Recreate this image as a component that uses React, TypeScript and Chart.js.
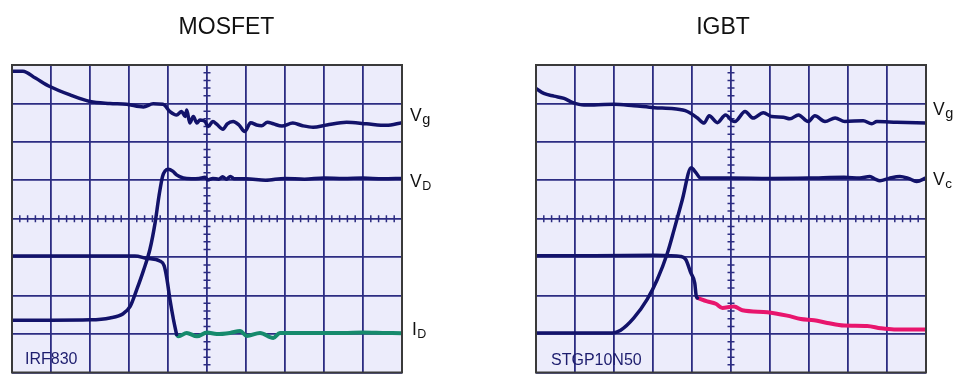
import React, { useEffect, useRef } from "react";
import { Chart, registerables } from "chart.js";

Chart.register(...registerables);

type Pt = [number, number];

// ---------- data (x in horizontal divisions 0..10, y in vertical divisions 0..8) ----------
const mosfetTitle = "MOSFET";
const igbtTitle = "IGBT";
const mosfetPart = "IRF830";
const igbtPart = "STGP10N50";

const mosfetVg: Pt[] = [
  [0, 7.84], [0.28, 7.84], [0.6, 7.66], [0.97, 7.44], [1.49, 7.22], [2.0, 7.05], [2.51, 7.0],
  [2.94, 6.98], [3.37, 6.91], [3.62, 6.99], [3.87, 6.98], [4.05, 6.79], [4.22, 6.7], [4.35, 6.79],
  [4.44, 6.66], [4.48, 6.83], [4.56, 6.49], [4.65, 6.66], [4.74, 6.49], [4.82, 6.57], [4.95, 6.53],
  [5.03, 6.4], [5.15, 6.53], [5.25, 6.46], [5.41, 6.33], [5.52, 6.47], [5.67, 6.53], [5.82, 6.44],
  [5.97, 6.27], [6.12, 6.5], [6.27, 6.44], [6.4, 6.42], [6.55, 6.51], [6.7, 6.47], [6.92, 6.41],
  [7.2, 6.49], [7.45, 6.42], [7.72, 6.38], [8.07, 6.44], [8.58, 6.51], [9.09, 6.47], [9.6, 6.43],
  [10, 6.5],
];
const mosfetVd: Pt[] = [
  [0, 1.36], [1.0, 1.36], [2.0, 1.37], [2.51, 1.42], [2.85, 1.53], [3.03, 1.72], [3.2, 2.16],
  [3.37, 2.65], [3.54, 3.22], [3.67, 3.9], [3.77, 4.6], [3.86, 5.1], [3.93, 5.25], [4.01, 5.29],
  [4.12, 5.24], [4.22, 5.14], [4.39, 5.06], [4.6, 5.04], [4.8, 5.05], [4.95, 5.08], [5.02, 5.01],
  [5.15, 5.05], [5.3, 5.03], [5.4, 5.09], [5.5, 5.03], [5.6, 5.1], [5.7, 5.04], [6.0, 5.04],
  [6.5, 5.0], [7.0, 5.05], [7.5, 5.03], [8.0, 5.06], [8.5, 5.05], [9.0, 5.06], [9.5, 5.04], [10, 5.05],
];
const mosfetIdOn: Pt[] = [
  [0, 3.03], [3.15, 3.03], [3.45, 2.97], [3.79, 2.9], [3.9, 2.78], [3.97, 2.45], [4.05, 1.9],
  [4.14, 1.38], [4.22, 0.99],
];
const mosfetIdOff: Pt[] = [
  [4.22, 0.99], [4.27, 0.94], [4.48, 1.03], [4.74, 0.94], [5.0, 1.04], [5.25, 1.0], [5.59, 1.03],
  [5.85, 1.08], [6.02, 0.95], [6.36, 1.03], [6.7, 0.9], [6.87, 1.03], [7.5, 1.03], [8.0, 1.03],
  [8.5, 1.03], [9.0, 1.04], [9.5, 1.03], [10, 1.02],
];

const igbtVg: Pt[] = [
  [0, 7.39], [0.2, 7.26], [0.46, 7.19], [0.72, 7.13], [0.93, 7.03], [1.23, 6.96], [1.49, 6.96],
  [2.0, 6.98], [2.51, 6.94], [3.03, 6.89], [3.54, 6.86], [3.88, 6.79], [4.14, 6.62], [4.31, 6.49],
  [4.44, 6.68], [4.65, 6.5], [4.86, 6.7], [5.03, 6.55], [5.1, 6.53], [5.36, 6.79], [5.57, 6.62],
  [5.83, 6.76], [6.04, 6.66], [6.34, 6.64], [6.51, 6.6], [6.73, 6.7], [6.98, 6.53], [7.15, 6.68],
  [7.41, 6.53], [7.67, 6.62], [7.92, 6.53], [8.39, 6.55], [8.61, 6.47], [8.74, 6.53], [9.25, 6.51],
  [10, 6.49],
];
const igbtVc: Pt[] = [
  [0, 1.03], [1.96, 1.03], [2.17, 1.1], [2.51, 1.42], [2.85, 1.9], [3.11, 2.42], [3.37, 3.11],
  [3.54, 3.71], [3.75, 4.49], [3.98, 5.33], [4.1, 5.2], [4.22, 5.06], [5.0, 5.06], [6.0, 5.05],
  [7.0, 5.06], [7.9, 5.08], [8.3, 5.06], [8.56, 5.1], [8.7, 5.03], [8.82, 4.99], [9.05, 5.05],
  [9.33, 5.1], [9.55, 5.05], [9.76, 4.97], [10, 5.06],
];
const igbtIcOn: Pt[] = [
  [0, 3.04], [1.5, 3.04], [3.03, 3.05], [3.4, 3.04], [3.71, 3.02], [3.84, 2.94], [3.97, 2.59],
  [4.07, 2.33], [4.11, 1.98], [4.14, 1.94],
];
const igbtIcTail: Pt[] = [
  [4.14, 1.94], [4.39, 1.85], [4.61, 1.79], [4.78, 1.68], [4.99, 1.71], [5.08, 1.72], [5.29, 1.62],
  [5.93, 1.57], [6.44, 1.48], [6.79, 1.39], [7.13, 1.36], [7.47, 1.29], [7.9, 1.22], [8.49, 1.21],
  [8.84, 1.15], [9.18, 1.12], [10, 1.12],
];

const xDivisions = 10;
const yDivisions = 8;

// ---------- styles ----------
const NAVY = "#12126a";
const GRID = "#2c2c82";
const BG = "#ececfb";
const FRAME = "#3a3a3a";
const GREEN = "#168a6c";
const PINK = "#e8156d";
const FONT = '"Liberation Sans", Arial, Helvetica, sans-serif';

if (typeof document !== "undefined") {
  document.body.style.margin = "0";
}

type Label = { main: string; sub: string; x: number; y: number; subDy: number; subSize: number };

type PanelSpec = {
  title: string;
  titleX: number;
  part: string;
  partX: number;
  partY: number;
  padding: { left: number; right: number; top: number; bottom: number };
  series: { pts: Pt[]; color: string; width: number }[];
  labels: Label[];
};

const toXY = (pts: Pt[]) => pts.map(([x, y]) => ({ x, y }));

function scopePlugin(spec: PanelSpec) {
  return {
    id: "scope",
    beforeDraw(chart: any) {
      const { ctx, chartArea: a } = chart;
      ctx.save();
      ctx.fillStyle = BG;
      ctx.fillRect(a.left, a.top, a.right - a.left, a.bottom - a.top);
      ctx.restore();
    },
    beforeDatasetsDraw(chart: any) {
      const { ctx } = chart;
      const xs = chart.scales.x;
      const ys = chart.scales.y;
      const cx = xs.getPixelForValue(xDivisions / 2);
      const cy = ys.getPixelForValue(yDivisions / 2);
      ctx.save();
      ctx.strokeStyle = GRID;
      ctx.lineWidth = 1.5;
      ctx.beginPath();
      for (let i = 1; i < xDivisions * 5; i++) {
        if (i % 5 === 0) continue;
        const px = xs.getPixelForValue(i / 5);
        ctx.moveTo(px, cy - 3.5);
        ctx.lineTo(px, cy + 3.5);
      }
      for (let i = 1; i < yDivisions * 5; i++) {
        if (i % 5 === 0) continue;
        const py = ys.getPixelForValue(i / 5);
        ctx.moveTo(cx - 3.5, py);
        ctx.lineTo(cx + 3.5, py);
      }
      ctx.stroke();
      ctx.restore();
    },
    afterDraw(chart: any) {
      const { ctx, chartArea: a } = chart;
      ctx.save();
      ctx.strokeStyle = FRAME;
      ctx.lineWidth = 2;
      ctx.strokeRect(a.left, a.top, a.right - a.left, a.bottom - a.top);

      ctx.fillStyle = "#111111";
      ctx.textBaseline = "alphabetic";
      ctx.textAlign = "center";
      ctx.font = `23px ${FONT}`;
      ctx.fillText(spec.title, spec.titleX, 34);

      ctx.textAlign = "left";
      for (const l of spec.labels) {
        ctx.font = `17.5px ${FONT}`;
        ctx.fillText(l.main, l.x, l.y);
        const w = ctx.measureText(l.main).width;
        ctx.font = `${l.subSize}px ${FONT}`;
        ctx.fillText(l.sub, l.x + w + 0.5, l.y + l.subDy);
      }

      ctx.fillStyle = "#1d1d6e";
      ctx.font = `16px ${FONT}`;
      ctx.fillText(spec.part, spec.partX, spec.partY);
      ctx.restore();
    },
  };
}

function makeConfig(spec: PanelSpec): any {
  return {
    type: "line",
    data: {
      datasets: spec.series.map((s) => ({
        data: toXY(s.pts),
        borderColor: s.color,
        borderWidth: s.width,
        pointRadius: 0,
        fill: false,
        cubicInterpolationMode: "monotone",
        borderCapStyle: "round",
        borderJoinStyle: "round",
      })),
    },
    options: {
      responsive: false,
      animation: false,
      devicePixelRatio: 1,
      layout: { padding: spec.padding },
      plugins: { legend: { display: false }, tooltip: { enabled: false }, title: { display: false } },
      scales: {
        x: {
          type: "linear",
          min: 0,
          max: xDivisions,
          ticks: { display: false, stepSize: 1 },
          grid: { color: GRID, lineWidth: 1.8, drawTicks: false },
          border: { display: false },
          afterFit: (s: any) => {
            s.height = 0;
          },
        },
        y: {
          type: "linear",
          min: 0,
          max: yDivisions,
          ticks: { display: false, stepSize: 1 },
          grid: { color: GRID, lineWidth: 1.8, drawTicks: false },
          border: { display: false },
          afterFit: (s: any) => {
            s.width = 0;
          },
        },
      },
    },
    plugins: [scopePlugin(spec)],
  };
}

const mosfetSpec: PanelSpec = {
  title: mosfetTitle,
  titleX: 226.5,
  part: mosfetPart,
  partX: 25,
  partY: 363.5,
  padding: { left: 12, right: 79, top: 65, bottom: 18.5 },
  series: [
    { pts: mosfetVg, color: NAVY, width: 3.5 },
    { pts: mosfetVd, color: NAVY, width: 3.5 },
    { pts: mosfetIdOn, color: NAVY, width: 3.5 },
    { pts: mosfetIdOff, color: GREEN, width: 4 },
  ],
  labels: [
    { main: "V", sub: "g", x: 410, y: 120.5, subDy: 3, subSize: 14.5 },
    { main: "V", sub: "D", x: 410, y: 186.5, subDy: 3.5, subSize: 12.5 },
    { main: "I", sub: "D", x: 412, y: 334.5, subDy: 3, subSize: 12.5 },
  ],
};

const igbtSpec: PanelSpec = {
  title: igbtTitle,
  titleX: 242,
  part: igbtPart,
  partX: 70,
  partY: 365,
  padding: { left: 55, right: 36, top: 65, bottom: 18.5 },
  series: [
    { pts: igbtVg, color: NAVY, width: 3.5 },
    { pts: igbtVc, color: NAVY, width: 3.5 },
    { pts: igbtIcOn, color: NAVY, width: 3.5 },
    { pts: igbtIcTail, color: PINK, width: 4 },
  ],
  labels: [
    { main: "V", sub: "g", x: 452, y: 115, subDy: 3, subSize: 14.5 },
    { main: "V", sub: "c", x: 452, y: 185, subDy: 3, subSize: 13.5 },
  ],
};

function Panel({ spec, left }: { spec: PanelSpec; left: number }) {
  const ref = useRef<HTMLCanvasElement>(null);
  useEffect(() => {
    if (!ref.current) return;
    const chart = new Chart(ref.current, makeConfig(spec));
    return () => chart.destroy();
  }, [spec]);
  return (
    <canvas
      ref={ref}
      width={481}
      height={391}
      style={{ position: "absolute", left, top: 0, width: 481, height: 391 }}
    />
  );
}

export default function App() {
  return (
    <div style={{ position: "relative", width: 962, height: 391, background: "#ffffff", overflow: "hidden" }}>
      <Panel spec={mosfetSpec} left={0} />
      <Panel spec={igbtSpec} left={481} />
    </div>
  );
}
